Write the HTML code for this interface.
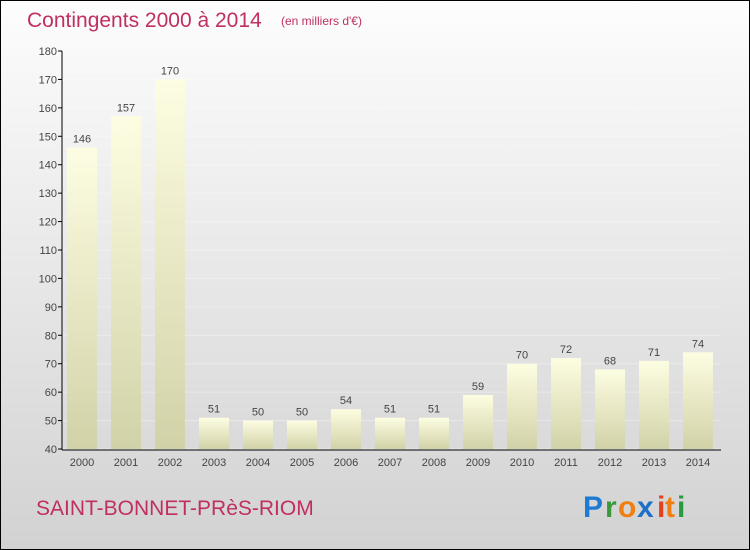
<!DOCTYPE html>
<html><head><meta charset="utf-8"><style>
body{margin:0}
#c{position:relative;width:748px;height:548px;border:1px solid #000;background:linear-gradient(#fdfdfd,#d2d2d2);overflow:hidden;font-family:"Liberation Sans",sans-serif}
</style></head><body>
<div id="c">
<svg width="748" height="548" style="position:absolute;left:0;top:0">
<defs><linearGradient id="bg" x1="0" y1="0" x2="0" y2="1"><stop offset="0" stop-color="#fdfde2"/><stop offset="1" stop-color="#d2d2a8"/></linearGradient></defs>
<text x="26" y="26" font-size="21" fill="#c0305e">Contingents 2000 à 2014</text>
<text x="280" y="24" font-size="12" fill="#c0305e">(en milliers d'€)</text>
<g id="g"></g>
<text x="35" y="514" font-size="21" fill="#c0305e">SAINT-BONNET-PRèS-RIOM</text>
<g font-size="30" font-weight="bold" font-family="'Liberation Sans',sans-serif">
<text x="582" y="516" fill="#1e7bd4">P</text><text x="604" y="516" fill="#3a9a3a">r</text><text x="617" y="516" fill="#f07f10">o</text><text x="636" y="516" fill="#1e6fc8">x</text><text x="656" y="516" fill="#e8401c">i</text><text x="664" y="516" fill="#f07f10">t</text><text x="676" y="516" fill="#2a9a40">i</text>
</g>
</svg>
</div>
<script>
const years=["2000","2001","2002","2003","2004","2005","2006","2007","2008","2009","2010","2011","2012","2013","2014"];
const values=[146,157,170,51,50,50,54,51,51,59,70,72,68,71,74];
const ticks=[40,50,60,70,80,90,100,110,120,130,140,150,160,170,180];
const NS="http://www.w3.org/2000/svg",g=document.getElementById('g');
const y=v=>448-(v-40)*(398/140), x=i=>81+i*44;
function el(t,a,txt){const e=document.createElementNS(NS,t);for(const k in a)e.setAttribute(k,a[k]);if(txt!=null)e.textContent=txt;g.appendChild(e);return e;}
ticks.forEach(t=>{
 const ln=el('line',{x1:61,x2:720,y1:y(t),y2:y(t),stroke:'#ffffff','stroke-opacity':0.35,'stroke-width':1});
 
 
 const tk=el('line',{x1:57,x2:61,y1:y(t),y2:y(t),stroke:'#000'});
 
 
 const lb=el('text',{x:56,y:y(t)+4,'font-size':11,fill:'#444','text-anchor':'end'},t);
 
 
});
years.forEach((yr,i)=>{
 const b=el('rect',{x:x(i)-15,y:y(values[i]),width:30,height:448-y(values[i]),fill:'url(#bg)'});
 
 
 const v=el('text',{x:x(i),y:y(values[i])-5,'font-size':11,fill:'#444','text-anchor':'middle'},values[i]);
 
 
 const l=el('text',{x:x(i),y:465,'font-size':11,fill:'#444','text-anchor':'middle'},yr);
 
 
});
const ya=el('line',{x1:61,x2:61,y1:y(180),y2:449,stroke:'#000'});


const xa=el('line',{x1:61,x2:720,y1:449,y2:449,stroke:'#000'});


</script>
</body></html>
